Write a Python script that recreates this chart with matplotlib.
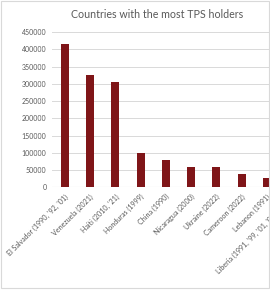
import matplotlib
matplotlib.use("Agg")
import matplotlib.pyplot as plt
from matplotlib.patches import Rectangle

categories = ["El Salvador (1990, '92, '01)", "Venezuela (2021)", "Haiti (2010, '21)",
              "Honduras (1999)", "China (1990)", "Nicaragua (2000)", "Ukraine (2022)",
              "Cameroon (2022)", "Lebanon (1991)", "Liberia (1991, '99, '01, '02, '14, '17)"]
values = [416000, 324000, 306000, 100000, 79000, 58000, 58000, 39000, 26000, 8000]
yticks = [0, 50000, 100000, 150000, 200000, 250000, 300000, 350000, 400000, 450000]
title = "Countries with the most TPS holders"

plt.rcParams['font.family'] = ['Lato', 'DejaVu Sans']
gray_text = "#595959"

fig = plt.figure(figsize=(2.7, 2.9), dpi=100)
ax = fig.add_axes([52/270, 102.7/290, (25.3*11)/270, 155.3/290])

x = list(range(len(categories)))
ax.bar(x, values, width=0.32, color="#7F1518", zorder=3)
ax.set_xlim(-0.5, len(categories) + 0.5)
ax.set_ylim(0, 450000)
ax.set_yticks(yticks)
ax.set_yticklabels([str(v) for v in yticks], fontsize=5, color=gray_text)
ax.set_xticks(x)
ax.set_xticklabels(categories, rotation=45, ha='right', va='top',
                   rotation_mode='anchor', fontsize=5.1, color=gray_text)
ax.tick_params(axis='both', length=0, pad=4)
ax.tick_params(axis='x', pad=4)
ax.grid(axis='y', color="#D9D9D9", linewidth=0.7, zorder=0)
for s in ax.spines.values():
    s.set_visible(False)
ax.axhline(0, color="#D9D9D9", linewidth=0.8, zorder=2)

fig.text(157/270, 1 - 14/290, title, ha='center', va='center', fontsize=7.7, color=gray_text)
fig.patches.append(Rectangle((0.5/270, 2/290), 268.5/270, 287.5/290, transform=fig.transFigure,
                             fill=False, edgecolor="#D9D9D9", linewidth=0.8))

fig.savefig("out.png", dpi=100)
